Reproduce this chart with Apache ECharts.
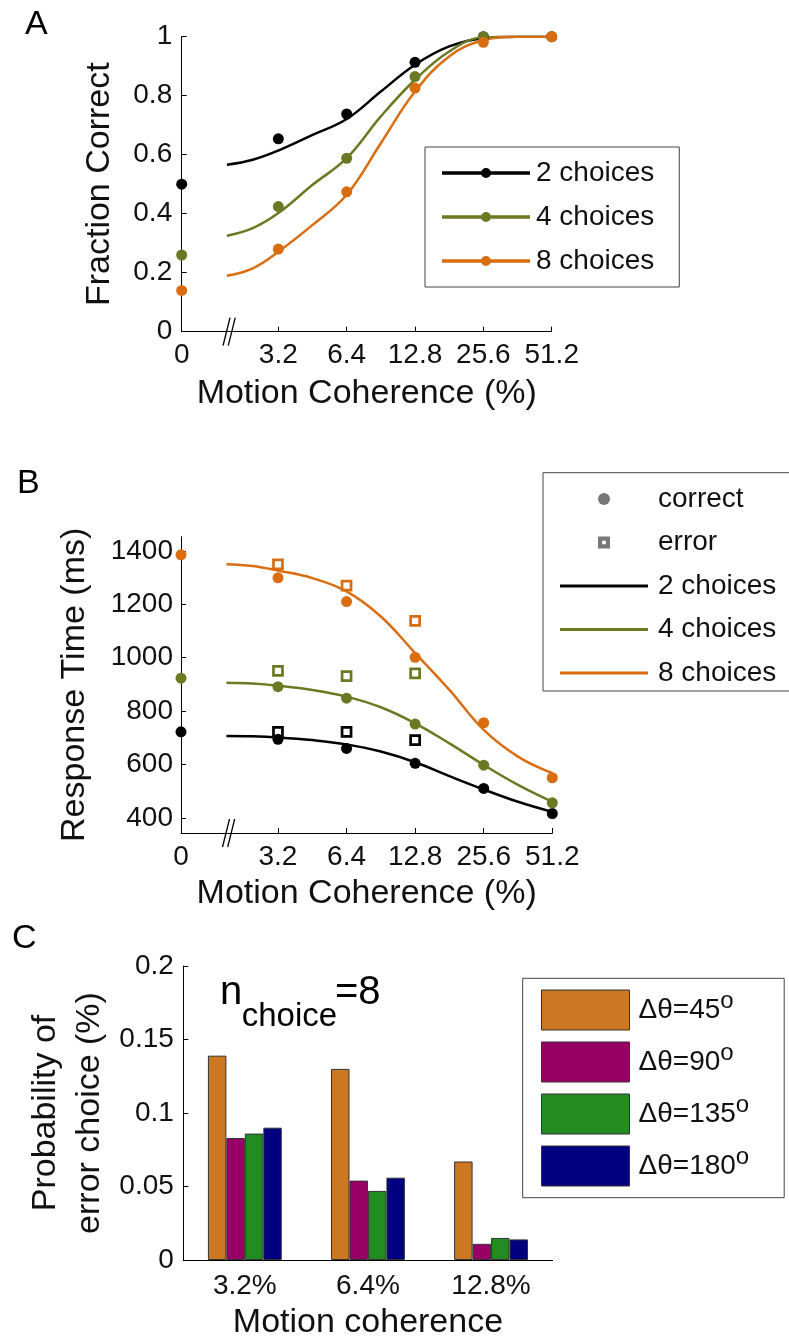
<!DOCTYPE html>
<html><head><meta charset="utf-8">
<script src="https://cdn.jsdelivr.net/npm/echarts@6/dist/echarts.min.js"></script>
<style>html,body{margin:0;padding:0;background:#fff}#chart{width:789px;height:1340px}</style>
</head><body><div id="chart"></div>
<script>
// ---------------- Data ----------------
const coherence = [0, 3.2, 6.4, 12.8, 25.6, 51.2];
const coherenceTickLabels = ['0', '3.2', '6.4', '12.8', '25.6', '51.2'];
const choiceNames = ['2 choices', '4 choices', '8 choices'];

// Panel A: fraction correct (data points)
const accuracy2 = [0.50, 0.654, 0.738, 0.913, 1.0, 1.0];
const accuracy4 = [0.26, 0.424, 0.588, 0.865, 1.0, 1.0];
const accuracy8 = [0.14, 0.28, 0.474, 0.826, 0.981, 1.0];
// Fitted curves at these coherences
const fitCoherence = [1.9, 2.47, 3.2, 4.53, 6.4, 9.05, 12.8, 18.1, 25.6, 36.2, 51.2];
const accuracyFit2 = [0.566, 0.583, 0.614, 0.667, 0.721, 0.814, 0.905, 0.967, 0.995, 1.0, 1.0];
const accuracyFit4 = [0.325, 0.351, 0.402, 0.498, 0.588, 0.730, 0.854, 0.950, 0.998, 1.0, 1.0];
const accuracyFit8 = [0.19, 0.215, 0.271, 0.362, 0.464, 0.639, 0.814, 0.933, 0.988, 1.0, 1.0];

// Panel B: response time
const rtCorrect2 = [722, 694, 660, 604, 510, 416];
const rtCorrect4 = [923, 891, 848, 751, 597, 456];
const rtCorrect8 = [1385, 1299, 1210, 1001, 756, 550];
const errorCoherence = [3.2, 6.4, 12.8];
const rtError2 = [722, 722, 691];
const rtError4 = [950, 931, 941];
const rtError8 = [1349, 1270, 1138];
const rtFit2 = [706, 705, 701, 691, 675, 648, 608, 556, 506, 460, 422];
const rtFit4 = [906, 903, 895, 879, 854, 814, 754, 679, 598, 523, 460];
const rtFit8 = [1350, 1343, 1326, 1298, 1248, 1154, 1017, 879, 729, 629, 567];
const rtTicks = [400, 600, 800, 1000, 1200, 1400];
const markerLegendNames = ['correct', 'error'];

// Panel C: probability of error choice
const barCategories = ['3.2%', '6.4%', '12.8%'];
const deltaThetaLabels = ['45', '90', '135', '180'];
const errProb45 = [0.139, 0.130, 0.067];
const errProb90 = [0.083, 0.054, 0.011];
const errProb135 = [0.086, 0.047, 0.015];
const errProb180 = [0.090, 0.056, 0.014];

// ---------------- Styling / layout ----------------
const FONT = "'Liberation Sans', Arial, Helvetica, sans-serif";
const TXT = '#111';
const COLORS = ['#000000', '#6B7A22', '#D96D10'];
const BAR_COLORS = ['#CC7722', '#990066', '#228B22', '#000080'];
const ZERO_POS = -1.414;   // where 0% sits on the compressed log2 axis
const BREAK_POS = -0.72;   // axis break mark
const pos = c => c === 0 ? ZERO_POS : Math.log2(c / 3.2);
const tickPositions = coherence.map(pos);
const labelFor = v => {
  const i = tickPositions.findIndex(p => Math.abs(p - v) < 1e-6);
  return i >= 0 ? coherenceTickLabels[i] : '';
};

const accPts = [accuracy2, accuracy4, accuracy8];
const accFit = [accuracyFit2, accuracyFit4, accuracyFit8];
const rtPts = [rtCorrect2, rtCorrect4, rtCorrect8];
const rtErr = [rtError2, rtError4, rtError8];
const rtFit = [rtFit2, rtFit4, rtFit8];
const errProb = [errProb45, errProb90, errProb135, errProb180];

const ICON_LINE_DOT = 'path://M0,4.25H88V7.75H0Z M39,6A5,5 0 1 1 49,6A5,5 0 1 1 39,6Z';
const ICON_LINE = 'path://M0,0H88V3H0Z';
const ICON_DOT = 'path://M0,6A6,6 0 1 1 12,6A6,6 0 1 1 0,6Z';
const ICON_SQ = 'path://M0,0H13V13H0Z M4.5,4.5V8.5H8.5V4.5Z';

const axisLine = {onZero: false, lineStyle: {color: '#000', width: 1}};
const tickIn = extra => Object.assign({inside: true, length: 5, lineStyle: {color: '#000', width: 1}}, extra || {});
const lab = extra => Object.assign({fontSize: 28, color: TXT, fontFamily: FONT}, extra || {});
const nameStyle = extra => Object.assign({fontSize: 34, color: TXT, fontFamily: FONT}, extra || {});

const series = [];
// Panel A
choiceNames.forEach((n, i) => {
  series.push({
    name: 'A|' + n, type: 'line', xAxisIndex: 0, yAxisIndex: 0,
    data: fitCoherence.map((c, k) => [pos(c), accFit[i][k]]),
    smooth: 0.4, symbol: 'none', showSymbol: false,
    lineStyle: {color: COLORS[i], width: 2.5}, itemStyle: {color: COLORS[i]}, z: 2
  });
});
choiceNames.forEach((n, i) => {
  series.push({
    name: 'A|' + n + '|pts', type: 'scatter', xAxisIndex: 0, yAxisIndex: 0,
    data: coherence.map((c, k) => [pos(c), accPts[i][k]]),
    symbol: 'circle', symbolSize: 11, itemStyle: {color: COLORS[i], opacity: 1}, z: 3
  });
});
// Panel B
choiceNames.forEach((n, i) => {
  series.push({
    name: 'B|' + n + '|err', type: 'scatter', xAxisIndex: 1, yAxisIndex: 1,
    data: errorCoherence.map((c, k) => [pos(c), rtErr[i][k]]),
    symbol: 'rect', symbolSize: 9,
    itemStyle: {color: '#fff', borderColor: COLORS[i], borderWidth: 2.7, opacity: 1}, z: 2
  });
});
choiceNames.forEach((n, i) => {
  series.push({
    name: 'B|' + n, type: 'line', xAxisIndex: 1, yAxisIndex: 1,
    data: fitCoherence.map((c, k) => [pos(c), rtFit[i][k]]),
    smooth: 0.4, symbol: 'none', showSymbol: false,
    lineStyle: {color: COLORS[i], width: 2.5}, itemStyle: {color: COLORS[i]}, z: 3
  });
});
choiceNames.forEach((n, i) => {
  series.push({
    name: 'B|' + n + '|pts', type: 'scatter', xAxisIndex: 1, yAxisIndex: 1,
    data: coherence.map((c, k) => [pos(c), rtPts[i][k]]),
    symbol: 'circle', symbolSize: 11, itemStyle: {color: COLORS[i], opacity: 1}, z: 4
  });
});
markerLegendNames.forEach(n => {
  series.push({name: 'B|' + n, type: 'scatter', xAxisIndex: 1, yAxisIndex: 1, data: [],
    itemStyle: {color: '#555'}});
});
// Panel C
deltaThetaLabels.forEach((d, i) => {
  series.push({
    name: 'C|' + d, type: 'bar', xAxisIndex: 2, yAxisIndex: 2,
    data: errProb[i], barGap: '0%', barCategoryGap: '40%',
    itemStyle: {color: BAR_COLORS[i], borderColor: '#333', borderWidth: 1}
  });
});

const option = {
  animation: false,
  backgroundColor: '#fff',
  textStyle: {fontFamily: FONT},
  grid: [
    {left: 181.7, top: 36.7, width: 370, height: 295, outerBoundsMode: 'none', containLabel: false},
    {left: 181, top: 536.7, width: 371.3, height: 296.3, outerBoundsMode: 'none', containLabel: false},
    {left: 183.3, top: 966, width: 369.3, height: 294, outerBoundsMode: 'none', containLabel: false}
  ],
  xAxis: [
    {gridIndex: 0, type: 'value', min: ZERO_POS, max: 4, axisLine,
     axisTick: tickIn({customValues: coherence.slice(1).map(pos)}),
     axisLabel: lab({customValues: tickPositions, formatter: labelFor, margin: 10}),
     splitLine: {show: false},
     name: 'Motion Coherence (%)', nameLocation: 'middle', nameGap: 45, nameMoveOverlap: false,
     nameTextStyle: nameStyle()},
    {gridIndex: 1, type: 'value', min: ZERO_POS, max: 4, axisLine,
     axisTick: tickIn({customValues: coherence.slice(1).map(pos)}),
     axisLabel: lab({customValues: tickPositions, formatter: labelFor, margin: 10}),
     splitLine: {show: false},
     name: 'Motion Coherence (%)', nameLocation: 'middle', nameGap: 44, nameMoveOverlap: false,
     nameTextStyle: nameStyle()},
    {gridIndex: 2, type: 'category', data: barCategories, axisLine,
     axisTick: {show: false}, axisLabel: lab({margin: 12.7}),
     name: 'Motion coherence', nameLocation: 'middle', nameGap: 46, nameMoveOverlap: false,
     nameTextStyle: nameStyle()}
  ],
  yAxis: [
    {gridIndex: 0, type: 'value', min: 0, max: 1, interval: 0.2, axisLine: Object.assign({show: true}, axisLine),
     axisTick: tickIn({show: true}), axisLabel: lab({margin: 9.5}), splitLine: {show: false},
     name: 'Fraction Correct', nameLocation: 'middle', nameGap: 65, nameMoveOverlap: false,
     nameTextStyle: nameStyle()},
    {gridIndex: 1, type: 'value', min: 343, max: 1453, axisLine: Object.assign({show: true}, axisLine),
     axisTick: tickIn({show: true, customValues: rtTicks}),
     axisLabel: lab({margin: 8, customValues: rtTicks, formatter: v => String(v)}), splitLine: {show: false},
     name: 'Response Time (ms)', nameLocation: 'middle', nameGap: 89, nameMoveOverlap: false,
     nameTextStyle: nameStyle()},
    {gridIndex: 2, type: 'value', min: 0, max: 0.2, interval: 0.05, axisLine: Object.assign({show: true}, axisLine),
     axisTick: tickIn({show: true}), axisLabel: lab({margin: 9.5}), splitLine: {show: false},
     name: 'Probability of\nerror choice (%)', nameLocation: 'middle', nameGap: 72, nameMoveOverlap: false,
     nameTextStyle: nameStyle({lineHeight: 44})}
  ],
  legend: [
    {orient: 'vertical', left: 425, top: 147, padding: [11, 25, 11, 17], itemGap: 14,
     itemWidth: 88, itemHeight: 12, symbolKeepAspect: true, selectedMode: false,
     backgroundColor: '#fff', borderColor: '#444', borderWidth: 1, borderRadius: 0,
     textStyle: {fontSize: 28, color: TXT, fontFamily: FONT, lineHeight: 30, padding: [0, 0, 0, 1]},
     formatter: n => n.split('|')[1],
     data: choiceNames.map((n, i) => ({name: 'A|' + n, icon: ICON_LINE_DOT,
       itemStyle: {color: COLORS[i], borderWidth: 0}}))},
    {orient: 'vertical', left: 543, top: 472.7, padding: [11.3, 30, 3, 17], itemGap: 13.5,
     itemWidth: 88, itemHeight: 12, symbolKeepAspect: true, selectedMode: false,
     backgroundColor: '#fff', borderColor: '#444', borderWidth: 1, borderRadius: 0,
     textStyle: {fontSize: 28, color: TXT, fontFamily: FONT, lineHeight: 30, padding: [0, 0, 0, 5]},
     formatter: n => n.split('|')[1],
     data: [
       {name: 'B|correct', icon: ICON_DOT, itemStyle: {color: '#555', borderWidth: 0}},
       {name: 'B|error', icon: ICON_SQ, itemStyle: {color: '#555', borderWidth: 0}}
     ].concat(choiceNames.map((n, i) => ({name: 'B|' + n, icon: ICON_LINE,
       itemStyle: {color: COLORS[i], borderWidth: 0}})))},
    {orient: 'vertical', left: 522.7, top: 978.3, padding: [10.7, 35, 10.7, 18.3], itemGap: 10,
     itemWidth: 88, itemHeight: 40, selectedMode: false,
     backgroundColor: '#fff', borderColor: '#444', borderWidth: 1, borderRadius: 0,
     textStyle: {fontSize: 28, color: TXT, fontFamily: FONT, lineHeight: 30, padding: [0, 0, 0, 4],
       rich: {
         m: {fontSize: 28, lineHeight: 30, color: TXT, fontFamily: FONT},
         s: {fontSize: 24, lineHeight: 24, padding: [0, 0, 18, 0], color: TXT, fontFamily: FONT}
       }},
     formatter: n => '{m|\u0394\u03b8=' + n.split('|')[1] + '}{s|o}',
     data: deltaThetaLabels.map((d, i) => ({name: 'C|' + d, icon: 'rect',
       itemStyle: {color: BAR_COLORS[i], borderColor: '#333', borderWidth: 1}}))}
  ],
  series
};

const chart = echarts.init(document.getElementById('chart'), null, {renderer: 'canvas'});
chart.setOption(option);

// Axis break marks and panel annotations
const breakMark = (gridIndex, yMin) => {
  const p = chart.convertToPixel({gridIndex}, [BREAK_POS, yMin]);
  return [-2.6, 2.6].map(dx => ({
    type: 'line', z: 100,
    shape: {x1: p[0] + dx - 3.5, y1: p[1] + 14, x2: p[0] + dx + 3.5, y2: p[1] - 14},
    style: {stroke: '#000', lineWidth: 1.3}
  }));
};
const letter = (t, x, y) => ({type: 'text', x, y, z: 100,
  style: {text: t, fill: '#000', font: '34px ' + FONT, align: 'left', verticalAlign: 'middle'}});
const txt = (t, x, y, size) => ({type: 'text', x, y, z: 100,
  style: {text: t, fill: '#000', font: size + 'px ' + FONT, align: 'left', verticalAlign: 'middle'}});

chart.setOption({
  graphic: [].concat(
    breakMark(0, 0),
    breakMark(1, 343),
    [letter('A', 25, 25), letter('B', 17, 484), letter('C', 12, 939),
     txt('n', 220, 992.8, 40), txt('choice', 241.7, 1016.9, 33), txt('=8', 335, 992.8, 40)]
  )
});
</script>
</body></html>
